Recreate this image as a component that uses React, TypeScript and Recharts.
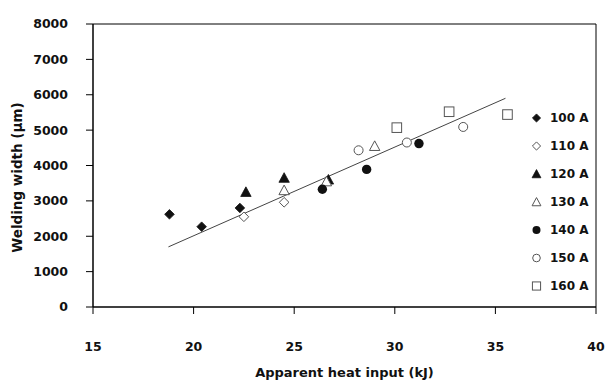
import React from 'react';
import { ScatterChart, Scatter, XAxis, YAxis, ReferenceLine } from 'recharts';

const xTicks = [15, 20, 25, 30, 35, 40];
const yTicks = [0, 1000, 2000, 3000, 4000, 5000, 6000, 7000, 8000];
const seriesNames = ['100 A', '110 A', '120 A', '130 A', '140 A', '150 A', '160 A'];

const x100 = [18.8, 20.4, 22.3];
const y100 = [2620, 2270, 2800];
const x110 = [22.5, 24.5];
const y110 = [2550, 2960];
const x120 = [22.6, 24.5, 26.7];
const y120 = [3250, 3650, 3600];
const x130 = [24.5, 26.6, 29.0];
const y130 = [3300, 3550, 4550];
const x140 = [26.4, 28.6, 31.2];
const y140 = [3330, 3890, 4620];
const x150 = [28.2, 30.6, 33.4];
const y150 = [4430, 4650, 5090];
const x160 = [30.1, 32.7, 35.6];
const y160 = [5070, 5520, 5440];

const trendX = [18.75, 35.5];
const trendY = [1700, 5900];

const FONT = '"DejaVu Sans", Verdana, sans-serif';
const INK = '#111';
const OPEN = '#555';

type Kind = 'diamondF' | 'diamondO' | 'triF' | 'triO' | 'circF' | 'circO' | 'sqO';
const kinds: Kind[] = ['diamondF', 'diamondO', 'triF', 'triO', 'circF', 'circO', 'sqO'];

const zip = (xs: number[], ys: number[]) => xs.map((x, i) => ({ x, y: ys[i] }));
const seriesData = [
  zip(x100, y100),
  zip(x110, y110),
  zip(x120, y120),
  zip(x130, y130),
  zip(x140, y140),
  zip(x150, y150),
  zip(x160, y160),
];

function Marker({ kind, cx, cy, s = 1 }: { kind: Kind; cx: number; cy: number; s?: number }) {
  const r = 4.8 * s;
  switch (kind) {
    case 'diamondF':
    case 'diamondO': {
      const pts = `${cx},${cy - r} ${cx + r},${cy} ${cx},${cy + r} ${cx - r},${cy}`;
      return kind === 'diamondF' ? (
        <polygon points={pts} fill={INK} stroke={INK} strokeWidth={0.8} />
      ) : (
        <polygon points={pts} fill="#fff" stroke={OPEN} strokeWidth={1} />
      );
    }
    case 'triF':
    case 'triO': {
      const h = 5.2 * s;
      const pts = `${cx},${cy - h} ${cx + h},${cy + h * 0.85} ${cx - h},${cy + h * 0.85}`;
      return kind === 'triF' ? (
        <polygon points={pts} fill={INK} stroke={INK} strokeWidth={0.8} />
      ) : (
        <polygon points={pts} fill="#fff" stroke={OPEN} strokeWidth={1} />
      );
    }
    case 'circF':
      return <circle cx={cx} cy={cy} r={4.7 * s} fill={INK} />;
    case 'circO':
      return <circle cx={cx} cy={cy} r={4.5 * s} fill="#fff" stroke={OPEN} strokeWidth={1} />;
    case 'sqO': {
      const a = 4.8 * s;
      return <rect x={cx - a} y={cy - a} width={2 * a} height={2 * a} fill="#fff" stroke={OPEN} strokeWidth={1} />;
    }
  }
  return null;
}

const makeShape = (kind: Kind) => (props: any) => {
  if (props.cx == null || props.cy == null) return <g />;
  return <Marker kind={kind} cx={props.cx} cy={props.cy} />;
};

const tickStyle = { fill: INK, fontSize: 12.5, fontWeight: 'bold' as const, fontFamily: FONT };

export default function App() {
  return (
    <div style={{ position: 'absolute', left: 0, top: 0, width: 608, height: 383, background: '#fff' }}>
      <ScatterChart width={608} height={383} margin={{ top: 24, right: 12, left: 0, bottom: 0 }}>
        <XAxis
          type="number"
          dataKey="x"
          domain={[15, 40]}
          ticks={xTicks}
          allowDataOverflow
          height={76}
          axisLine={{ stroke: '#000', strokeWidth: 1.5 }}
          tickLine={{ stroke: '#000', strokeWidth: 1 }}
          tickSize={7}
          tickMargin={28}
          tick={tickStyle}
          label={{
            value: 'Apparent heat input (kJ)',
            position: 'insideBottom',
            offset: 6,
            fill: INK,
            fontSize: 13,
            fontWeight: 'bold',
            fontFamily: FONT,
          }}
        />
        <YAxis
          type="number"
          dataKey="y"
          domain={[0, 8000]}
          ticks={yTicks}
          allowDataOverflow
          width={93}
          axisLine={{ stroke: '#000', strokeWidth: 1.5 }}
          tickLine={{ stroke: '#000', strokeWidth: 1 }}
          tickSize={7}
          tickMargin={18}
          tick={tickStyle}
          label={{
            content: (p: any) => {
              const vb = p.viewBox || { x: 0, y: 24, width: 93, height: 283 };
              const cx = vb.x + 17;
              const cy = vb.y + vb.height / 2 + 12;
              return (
                <text
                  x={cx}
                  y={cy}
                  transform={`rotate(-90, ${cx}, ${cy})`}
                  textAnchor="middle"
                  dominantBaseline="central"
                  fill={INK}
                  fontSize={13.5}
                  fontWeight="bold"
                  fontFamily={FONT}
                >
                  Welding width (μm)
                </text>
              );
            },
          }}
        />
        <ReferenceLine y={8000} stroke="#000" strokeWidth={1} />
        <ReferenceLine x={40} stroke="#000" strokeWidth={1} />
        <ReferenceLine
          segment={[
            { x: trendX[0], y: trendY[0] },
            { x: trendX[1], y: trendY[1] },
          ]}
          stroke="#444"
          strokeWidth={1}
        />
        {seriesData.map((d, i) => (
          <Scatter
            key={seriesNames[i]}
            name={seriesNames[i]}
            data={d}
            shape={makeShape(kinds[i])}
            isAnimationActive={false}
          />
        ))}
      </ScatterChart>
      <div
        style={{
          position: 'absolute',
          left: 528,
          top: 104,
          fontFamily: FONT,
          fontWeight: 'bold',
          fontSize: 12,
          color: INK,
        }}
      >
        {seriesNames.map((n, i) => (
          <div key={n} style={{ height: 28, display: 'flex', alignItems: 'center' }}>
            <svg width={18} height={14} style={{ display: 'block' }}>
              <Marker kind={kinds[i]} cx={8.5} cy={7} s={0.85} />
            </svg>
            <span style={{ marginLeft: 4, whiteSpace: 'nowrap' }}>{n}</span>
          </div>
        ))}
      </div>
    </div>
  );
}
